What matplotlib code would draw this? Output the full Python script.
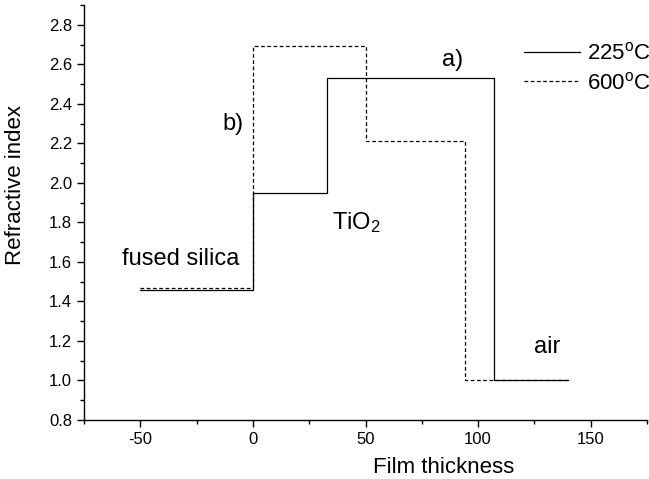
import matplotlib
matplotlib.use("Agg")
import matplotlib.pyplot as plt
from matplotlib.ticker import MultipleLocator, FormatStrFormatter

plt.rcParams['font.family'] = ['Liberation Sans', 'DejaVu Sans']
plt.rcParams['mathtext.fontset'] = 'custom'
plt.rcParams['mathtext.rm'] = 'Liberation Sans'
plt.rcParams['mathtext.it'] = 'Liberation Sans'
plt.rcParams['axes.unicode_minus'] = False

# step profiles of refractive index across the film
x_225 = [-50, 0, 0, 33, 33, 107, 107, 140]
n_225 = [1.46, 1.46, 1.95, 1.95, 2.53, 2.53, 1.00, 1.00]

x_600 = [-50, 0, 0, 50, 50, 94, 94, 140]
n_600 = [1.47, 1.47, 2.69, 2.69, 2.21, 2.21, 1.00, 1.00]

fig = plt.figure(figsize=(6.49, 4.79), dpi=100)
ax = fig.add_axes([84 / 649, 59 / 479, 563 / 649, 415 / 479])

ax.plot(x_225, n_225, color='black', lw=0.9, label='225$^\\mathrm{o}$C')
ax.plot(x_600, n_600, color='black', lw=0.9, dashes=(3, 2), label='600$^\\mathrm{o}$C')

ax.set_xlim(-75, 175)
ax.set_ylim(0.8, 2.9)
ax.xaxis.set_major_locator(MultipleLocator(50))
ax.xaxis.set_minor_locator(MultipleLocator(25))
ax.yaxis.set_major_locator(MultipleLocator(0.2))
ax.yaxis.set_minor_locator(MultipleLocator(0.1))
ax.yaxis.set_major_formatter(FormatStrFormatter('%.1f'))

ax.spines['top'].set_visible(False)
ax.spines['right'].set_visible(False)
for s in ['left', 'bottom']:
    ax.spines[s].set_linewidth(1.0)
ax.tick_params(which='major', direction='out', length=5, width=1.0, labelsize=12)
ax.tick_params(which='minor', direction='out', length=3, width=1.0)

ax.set_xlabel('Film thickness', fontsize=16)
ax.set_ylabel('Refractive index', fontsize=16)
ax.xaxis.set_label_coords(0.638, -0.088)
ax.yaxis.set_label_coords(-0.103, 0.566)

# region labels
ax.text(88.5, 2.62, 'a)', fontsize=17, ha='center', va='center')
ax.text(-8.7, 2.30, 'b)', fontsize=17, ha='center', va='center')
ax.text(35, 1.80, 'TiO$_2$', fontsize=17, ha='left', va='center')
ax.text(-32, 1.615, 'fused silica', fontsize=17, ha='center', va='center')
ax.text(130.5, 1.17, 'air', fontsize=17, ha='center', va='center')

ax.legend(loc='upper left', bbox_to_anchor=(0.7815, 0.91), frameon=False,
          fontsize=16, handlelength=2.5, handletextpad=0.32, labelspacing=0.35,
          borderpad=0, borderaxespad=0)

fig.savefig('out.png', dpi=100)
